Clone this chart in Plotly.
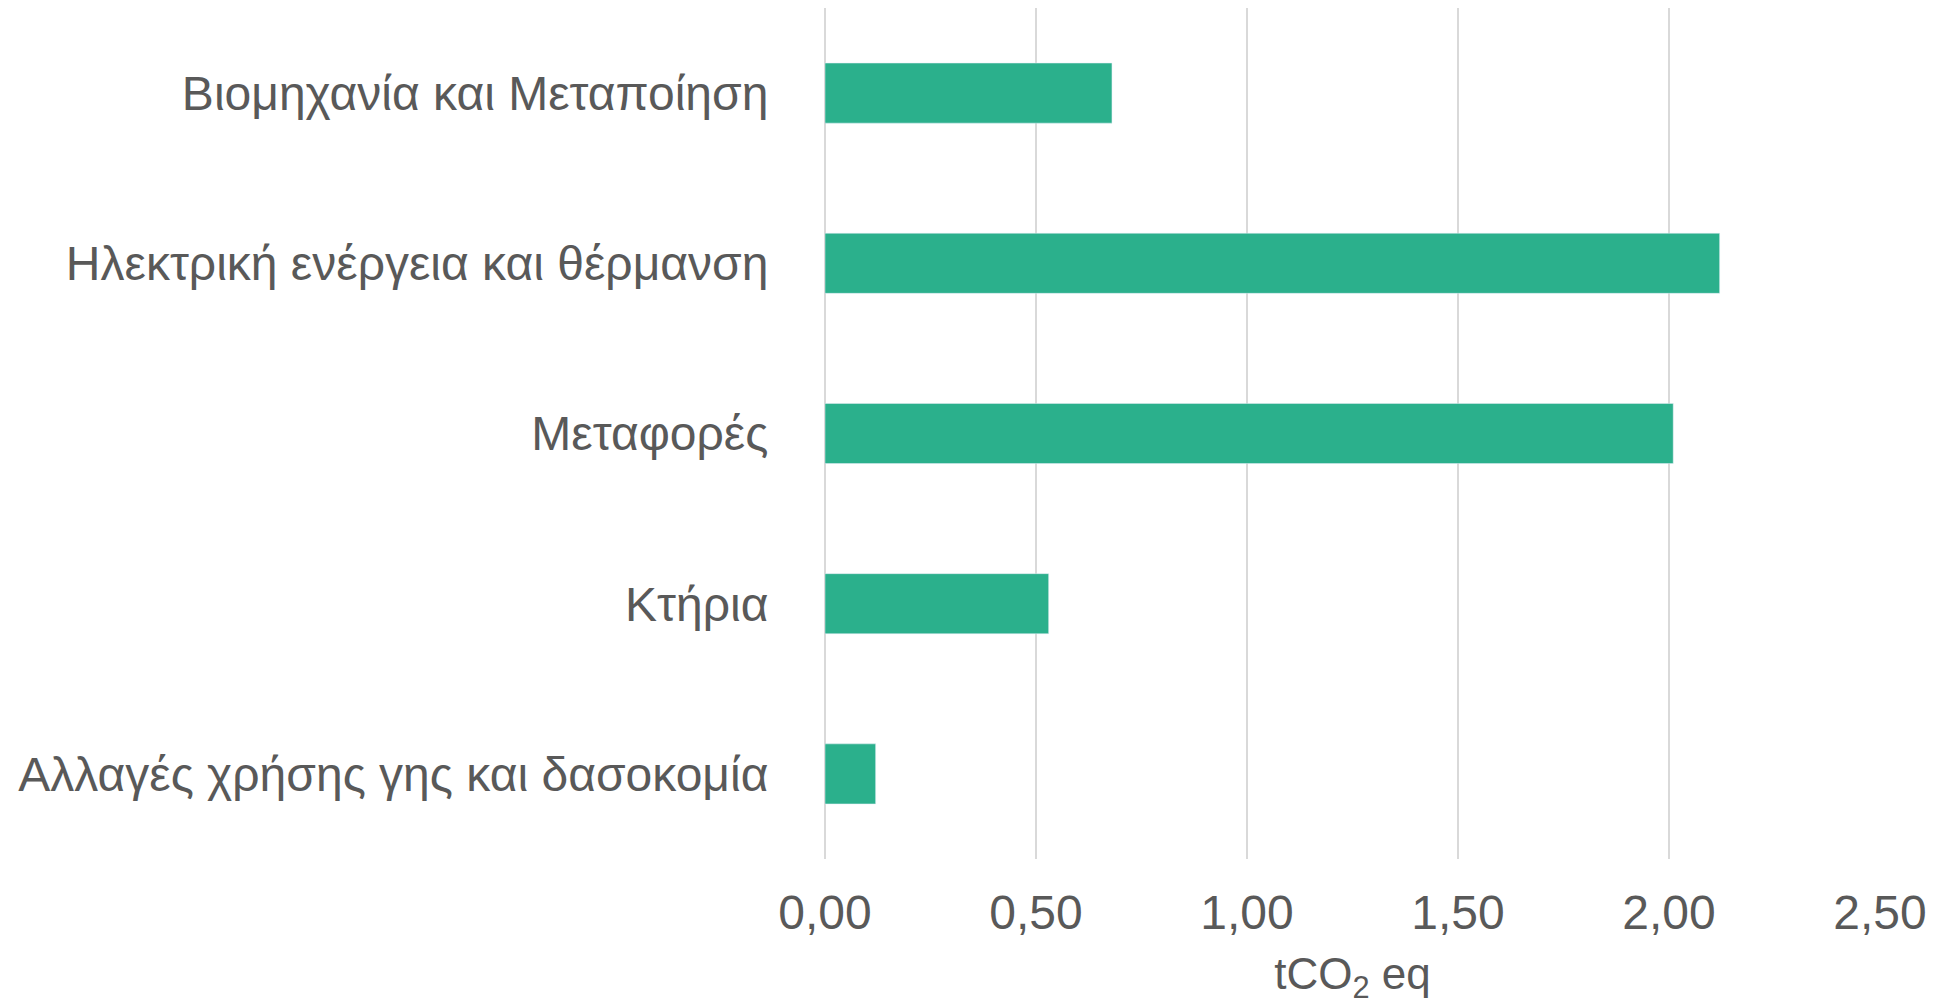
import plotly.graph_objects as go

# emissions per sector (tCO2 eq)
sectors = [
    "Βιομηχανία και Μεταποίηση",
    "Ηλεκτρική ενέργεια και θέρμανση",
    "Μεταφορές",
    "Κτήρια",
    "Αλλαγές χρήσης γης και δασοκομία",
]
emissions = [0.68, 2.12, 2.01, 0.53, 0.12]
x_ticks = [0, 0.5, 1.0, 1.5, 2.0, 2.5]

text_color = "#595959"
grid_color = "#D9D9D9"

fig = go.Figure(
    go.Bar(
        x=emissions,
        y=sectors,
        orientation="h",
        marker=dict(color="#2BB08C"),
        width=0.353,
        hoverinfo="x+y",
    )
)

# page body adds an 8px margin, so the figure is sized to fit inside it
fig.update_layout(
    width=1936,
    height=998,
    margin=dict(l=817, r=64, t=0, b=147),
    paper_bgcolor="white",
    plot_bgcolor="white",
    separators=",.",
    font=dict(family="Liberation Sans, Arial, sans-serif", size=48, color=text_color),
    showlegend=False,
)

fig.update_xaxes(
    range=[0, 2.5],
    tickvals=x_ticks,
    tickformat=".2f",
    automargin=False,
    showgrid=True,
    gridcolor=grid_color,
    gridwidth=2,
    zeroline=True,
    zerolinecolor=grid_color,
    zerolinewidth=2,
    showline=False,
    ticks="outside",
    ticklen=11,
    tickcolor="rgba(0,0,0,0)",
    tickfont=dict(size=48, color=text_color),
    title=dict(text="tCO<sub>2</sub> eq", font=dict(size=44, color=text_color), standoff=20),
)

fig.update_yaxes(
    autorange="reversed",
    automargin=False,
    showgrid=False,
    showline=False,
    ticks="outside",
    ticklen=46,
    tickcolor="rgba(0,0,0,0)",
    tickfont=dict(size=48, color=text_color),
)

fig.write_html("out.html")
